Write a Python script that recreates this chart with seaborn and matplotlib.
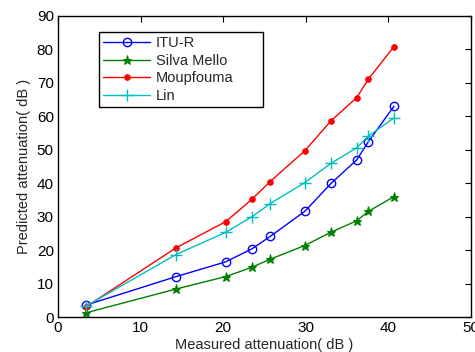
import matplotlib
matplotlib.use("Agg")
import matplotlib.pyplot as plt
import seaborn as sns
import pandas as pd

measured = [3.4, 14.3, 20.3, 23.5, 25.7, 29.9, 33.1, 36.2, 37.6, 40.7]
itu_r = [3.6, 12.1, 16.5, 20.4, 24.1, 31.6, 40.0, 47.0, 52.4, 63.0]
silva_mello = [1.3, 8.4, 12.1, 14.9, 17.3, 21.4, 25.4, 28.8, 31.6, 36.0]
moupfouma = [3.1, 20.7, 28.5, 35.2, 40.5, 49.7, 58.7, 65.6, 71.1, 80.8]
lin = [3.3, 18.7, 25.3, 30.0, 33.9, 40.2, 46.0, 50.6, 54.1, 59.5]

series = [
    ("ITU-R", itu_r, dict(color="#0000ff", marker="o", markersize=6,
                          markerfacecolor="none", markeredgecolor="#0000ff", markeredgewidth=1)),
    ("Silva Mello", silva_mello, dict(color="#008000", marker="*", markersize=6.5,
                                      markeredgecolor="#008000", markerfacecolor="#008000")),
    ("Moupfouma", moupfouma, dict(color="#ff0000", marker=".", markersize=8,
                                  markeredgecolor="#ff0000", markerfacecolor="#ff0000")),
    ("Lin", lin, dict(color="#00bfbf", marker="+", markersize=9,
                      markeredgecolor="#00bfbf", markeredgewidth=1)),
]

sns.set_theme(style="white")
plt.rcParams["font.family"] = ["Liberation Sans", "DejaVu Sans"]

fig = plt.figure(figsize=(4.75, 3.52), dpi=100)
ax = fig.add_axes([0.122, 0.099, 0.869, 0.856])

for name, vals, kw in series:
    df = pd.DataFrame({"x": measured, "y": vals})
    sns.lineplot(data=df, x="x", y="y", ax=ax, label=name, linewidth=1,
                 sort=False, **kw)

ax.set_xlim(0, 50)
ax.set_ylim(0, 90)
ax.set_xticks([0, 10, 20, 30, 40, 50])
ax.set_yticks(range(0, 91, 10))
ax.tick_params(direction="in", length=4, width=0.8, top=True, right=True,
               labelsize=11, colors="black", pad=3)
for s in ax.spines.values():
    s.set_color("black")
    s.set_linewidth(1)
ax.set_xlabel("Measured attenuation( dB )", fontsize=10.5, labelpad=2)
ax.set_ylabel("Predicted attenuation( dB )", fontsize=10.5, labelpad=4)

# legend box spanning a fixed width in axes coordinates
leg = ax.legend(loc="upper left", bbox_to_anchor=(0.099, 0.72, 0.397, 0.227),
                mode="expand", borderaxespad=0,
                fontsize=10.5, handlelength=3.2, frameon=True, fancybox=False,
                edgecolor="black", framealpha=1, borderpad=0.3, labelspacing=0.25,
                handletextpad=0.4)
leg.get_frame().set_linewidth(1)

fig.savefig("out.png", dpi=100)
